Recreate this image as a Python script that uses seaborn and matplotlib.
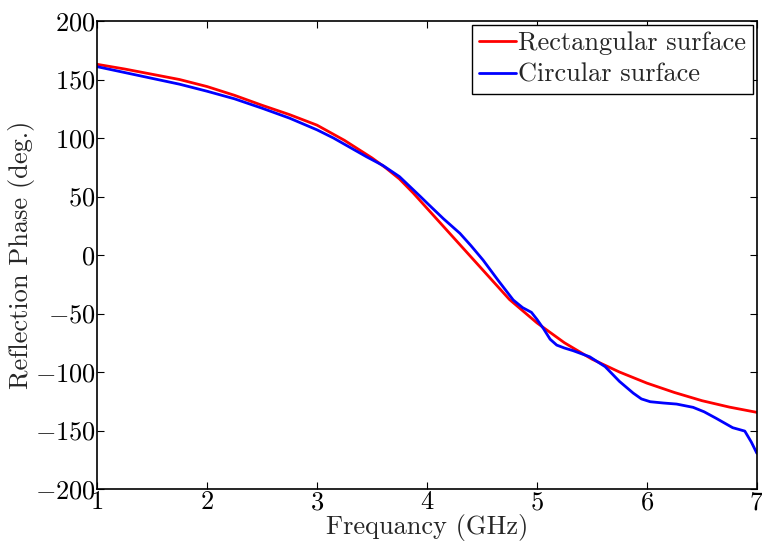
import matplotlib
matplotlib.use("Agg")
import matplotlib.pyplot as plt
import seaborn as sns
import pandas as pd

# Data
rect_freq = [1.0, 1.25, 1.5, 1.75, 2.0, 2.25, 2.5, 2.75, 3.0, 3.25, 3.5, 3.625,
             3.75, 3.875, 4.0, 4.25, 4.5, 4.75, 5.0, 5.25, 5.5, 5.75, 6.0,
             6.25, 6.5, 6.75, 7.0]
rect_phase = [163, 159, 154.5, 150, 144, 136.5, 128, 120, 111, 98, 83, 74.5,
              65, 53, 40, 14, -12, -38, -58, -75, -89, -100, -109.5,
              -117.5, -124.5, -130, -134.5]

circ_freq = [1.0, 1.25, 1.5, 1.75, 2.0, 2.25, 2.5, 2.75, 2.85, 3.0, 3.15, 3.3,
             3.45, 3.6, 3.75, 3.94, 4.0, 4.15, 4.3, 4.4, 4.51, 4.65, 4.785,
             4.87, 4.95, 5.0, 5.06, 5.12, 5.18, 5.25, 5.33, 5.48, 5.62, 5.75,
             5.875, 5.95, 6.03, 6.15, 6.27, 6.42, 6.52, 6.63, 6.78, 6.89,
             6.95, 7.0]
circ_phase = [161, 156, 151, 146, 140, 133.5, 125.5, 117, 113, 107, 100, 92,
              84, 76.5, 67, 50, 44.5, 31, 18.5, 8, -4.3, -22, -38.5,
              -45, -49, -55, -63, -72, -77, -79.5, -81.8, -87, -95.4, -108,
              -118, -123, -125.4, -126.5, -127.4, -130.2, -134, -139.6, -147.6,
              -150.5, -160, -169.5]

series_names = ["Rectangular surface", "Circular surface"]
x_ticks = [1, 2, 3, 4, 5, 6, 7]
y_ticks = [-200, -150, -100, -50, 0, 50, 100, 150, 200]

df = pd.concat([
    pd.DataFrame({"freq": rect_freq, "phase": rect_phase, "series": series_names[0]}),
    pd.DataFrame({"freq": circ_freq, "phase": circ_phase, "series": series_names[1]}),
], ignore_index=True)

sns.set_style("ticks")
plt.rcParams["font.family"] = ["cmr10", "DejaVu Serif"]
plt.rcParams["mathtext.fontset"] = "cm"
plt.rcParams["axes.formatter.use_mathtext"] = True

fig = plt.figure(figsize=(7.62, 5.5), dpi=100)
ax = fig.add_axes([0.1273, 0.1109, 0.866, 0.8509])

sns.lineplot(data=df, x="freq", y="phase", hue="series", sort=False,
             palette={series_names[0]: "#ff0000", series_names[1]: "#0000ff"},
             linewidth=2.0, ax=ax, estimator=None)

ax.set_xlim(1, 7)
ax.set_ylim(-200, 200)
ax.set_xticks(x_ticks)
ax.set_yticks(y_ticks)
ax.tick_params(direction="in", top=True, right=True, length=5, width=0.8,
               labelsize=19, colors="black", pad=1)
for s in ax.spines.values():
    s.set_linewidth(1.2)
    s.set_color("black")

ax.set_xlabel("Frequancy (GHz)", fontsize=19, labelpad=0)
ax.set_ylabel("Reflection Phase (deg.)", fontsize=19, labelpad=0)

leg = ax.legend(loc="upper right", fontsize=19, handlelength=1.4,
                handletextpad=0.1, borderpad=0.25, labelspacing=0.3,
                fancybox=False, framealpha=1, edgecolor="black",
                borderaxespad=0.15)
leg.get_frame().set_linewidth(1.0)

fig.savefig("out.png", dpi=100)
